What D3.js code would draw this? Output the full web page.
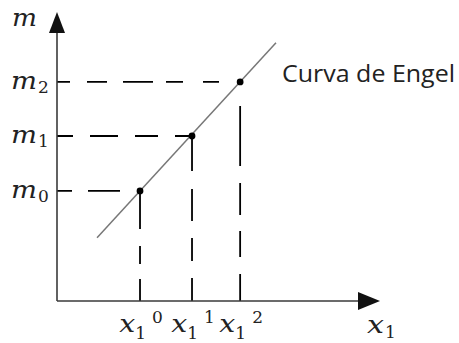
<!DOCTYPE html>
<html>
<head>
<meta charset="utf-8">
<script src="https://cdn.jsdelivr.net/npm/d3@7"></script>
<style>
  html, body { margin: 0; padding: 0; background: #fff; }
  svg { display: block; }
</style>
</head>
<body>
<div id="chart"></div>
<script>
// Engel curve: income m against quantity demanded of good 1
const levels = ["0", "1", "2"];
const quantityX1 = [25.7, 41.8, 56.7];   // x1^0, x1^1, x1^2
const incomeM = [38.1, 57.1, 75.8];      // m0, m1, m2
const engelX = [12.4, 67.8];             // ends of the drawn Engel line
const engelM = [21.9, 89.4];
const curveLabel = "Curva de Engel";

const W = 459, H = 343;
const svg = d3.select("#chart").append("svg").attr("width", W).attr("height", H);

const origin = { x: 57, y: 301 };
const x = d3.scaleLinear().domain([0, 100]).range([origin.x, 380]);
const y = d3.scaleLinear().domain([0, 100]).range([origin.y, 12]);

const axisColor = "#3a3a3a";
const textColor = "#222";
const serif = "'DejaVu Serif', 'Liberation Serif', serif";

// Dashed guides (horizontal to the m axis, vertical to the x1 axis)
const hDash = ["15,16,32,17,36,17,60", "16,17,28,17,23,17,40", "13,17,20,16,30"];
const vDash = ["22,15,18,17,60", "23,17,23,17,32,18,60", "27,17,26,16,32,17,60"];
levels.forEach((k, i) => {
  svg.append("line")
    .attr("x1", x(0)).attr("y1", y(incomeM[i]))
    .attr("x2", x(quantityX1[i])).attr("y2", y(incomeM[i]))
    .attr("stroke", "#000").attr("stroke-width", 1.8)
    .attr("stroke-dasharray", hDash[i]);
  svg.append("line")
    .attr("x1", x(quantityX1[i])).attr("y1", y(0))
    .attr("x2", x(quantityX1[i])).attr("y2", y(incomeM[i]))
    .attr("stroke", "#000").attr("stroke-width", 1.8)
    .attr("stroke-dasharray", vDash[i]);
});

// Engel line
svg.append("path")
  .datum(engelX.map((v, i) => [v, engelM[i]]))
  .attr("d", d3.line().x(d => x(d[0])).y(d => y(d[1])))
  .attr("fill", "none").attr("stroke", "#777").attr("stroke-width", 1.5);

// Points on the curve
svg.selectAll("circle.pt")
  .data(levels)
  .join("circle")
  .attr("class", "pt")
  .attr("cx", (d, i) => x(quantityX1[i]))
  .attr("cy", (d, i) => y(incomeM[i]))
  .attr("r", 3.4)
  .attr("fill", "#000");

// Axes with arrowheads
svg.append("line")
  .attr("x1", origin.x).attr("y1", origin.y)
  .attr("x2", origin.x).attr("y2", y(100) + 16)
  .attr("stroke", axisColor).attr("stroke-width", 1.6);
svg.append("line")
  .attr("x1", origin.x).attr("y1", origin.y)
  .attr("x2", x(100) - 16).attr("y2", origin.y)
  .attr("stroke", axisColor).attr("stroke-width", 1.6);
svg.append("path")
  .attr("d", `M${origin.x},${y(100)} L${origin.x - 8},${y(100) + 21} L${origin.x + 8},${y(100) + 21} Z`)
  .attr("fill", "#111");
svg.append("path")
  .attr("d", `M${x(100)},${origin.y} L${x(100) - 22},${origin.y - 9} L${x(100) - 22},${origin.y + 9} Z`)
  .attr("fill", "#111");

// Italic math letter, widened to the look of a math font
function mathLetter(sel, ch, width) {
  return sel.append("tspan")
    .attr("font-style", "italic").attr("font-size", 25)
    .attr("textLength", width).attr("lengthAdjust", "spacingAndGlyphs")
    .text(ch);
}

// Axis titles
const mt = svg.append("text")
  .attr("x", 12).attr("y", 26)
  .attr("font-family", serif).attr("fill", textColor);
mathLetter(mt, "m", 25);

const xt = svg.append("text")
  .attr("x", 367).attr("y", 333)
  .attr("font-family", serif).attr("fill", textColor);
mathLetter(xt, "x", 17);
xt.append("tspan").attr("font-size", 17).attr("dy", 5).attr("dx", 1).text("1");

// m labels
levels.forEach((k, i) => {
  const t = svg.append("text")
    .attr("x", 11).attr("y", y(incomeM[i]) + 7)
    .attr("font-family", serif).attr("fill", textColor);
  mathLetter(t, "m", 26);
  t.append("tspan").attr("font-size", 17).attr("dy", 4).attr("dx", 1).text(k);
});

// x1 labels
levels.forEach((k, i) => {
  const t = svg.append("text")
    .attr("x", x(quantityX1[i]) + 1).attr("y", 332)
    .attr("text-anchor", "middle")
    .attr("font-family", serif).attr("fill", textColor);
  mathLetter(t, "x", 16);
  t.append("tspan").attr("font-size", 17).attr("dy", 7).text("1");
  t.append("tspan").attr("font-size", 17).attr("dx", 6).attr("dy", -16).text(k);
});

// Curve label
svg.append("text")
  .attr("x", 282).attr("y", 82)
  .attr("font-family", "'Open Sans', 'Noto Sans', sans-serif")
  .attr("font-size", 23).attr("fill", textColor)
  .attr("textLength", 173).attr("lengthAdjust", "spacingAndGlyphs")
  .text(curveLabel);
</script>
</body>
</html>
